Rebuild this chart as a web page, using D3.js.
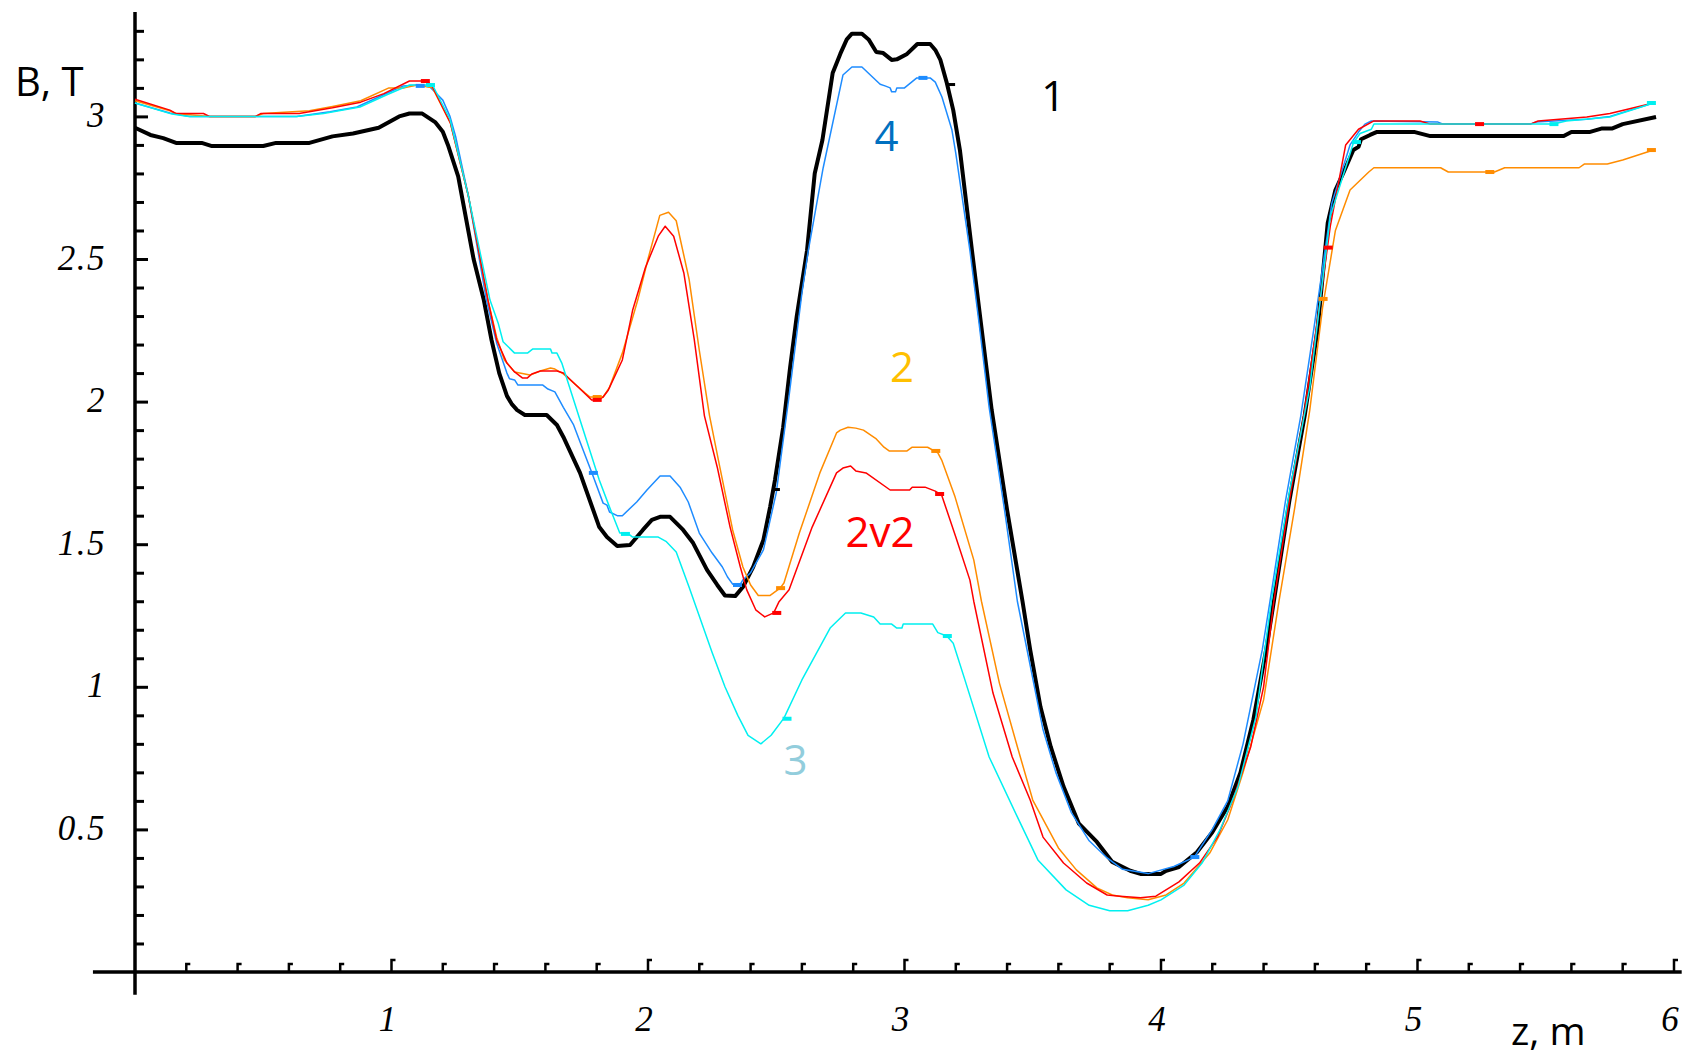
<!DOCTYPE html>
<html><head><meta charset="utf-8">
<script src="https://cdn.jsdelivr.net/npm/d3@7"></script>
<style>body{margin:0;background:#fff}svg{display:block}</style>
</head><body>
<svg id="chart" width="1690" height="1058"></svg>
<script>
// ---- data (z in m, B in T) ----
const curve1 = [[0,2.96],[0.06,2.935],[0.11,2.924],[0.16,2.907],[0.26,2.907],[0.30,2.896],[0.50,2.896],[0.55,2.907],[0.68,2.907],[0.77,2.93],[0.85,2.94],[0.95,2.96],[1.03,3.0],[1.07,3.01],[1.12,3.01],[1.17,2.98],[1.20,2.946],[1.22,2.90],[1.26,2.79],[1.32,2.50],[1.36,2.356],[1.39,2.216],[1.42,2.10],[1.45,2.02],[1.47,1.99],[1.49,1.97],[1.52,1.953],[1.605,1.953],[1.645,1.918],[1.67,1.876],[1.735,1.75],[1.81,1.56],[1.84,1.525],[1.88,1.494],[1.93,1.497],[1.98,1.55],[2.015,1.585],[2.047,1.596],[2.086,1.596],[2.137,1.55],[2.176,1.504],[2.23,1.41],[2.27,1.357],[2.30,1.32],[2.34,1.318],[2.37,1.35],[2.41,1.42],[2.45,1.515],[2.476,1.63],[2.495,1.725],[2.527,1.91],[2.554,2.12],[2.58,2.30],[2.62,2.53],[2.65,2.80],[2.68,2.917],[2.72,3.152],[2.75,3.22],[2.775,3.27],[2.795,3.29],[2.834,3.29],[2.86,3.27],[2.89,3.226],[2.917,3.222],[2.95,3.198],[2.97,3.2],[3.01,3.219],[3.05,3.254],[3.10,3.254],[3.12,3.233],[3.14,3.198],[3.165,3.117],[3.19,3.022],[3.216,2.882],[3.263,2.53],[3.30,2.26],[3.34,1.97],[3.40,1.62],[3.46,1.30],[3.49,1.13],[3.53,0.93],[3.57,0.79],[3.62,0.65],[3.68,0.52],[3.75,0.456],[3.81,0.386],[3.88,0.355],[3.92,0.344],[4.00,0.344],[4.02,0.355],[4.07,0.368],[4.14,0.42],[4.20,0.49],[4.26,0.58],[4.31,0.70],[4.36,0.884],[4.41,1.13],[4.44,1.30],[4.50,1.65],[4.56,1.95],[4.61,2.25],[4.65,2.626],[4.68,2.742],[4.71,2.80],[4.75,2.882],[4.77,2.893],[4.78,2.92],[4.815,2.935],[4.84,2.945],[4.99,2.945],[5.05,2.931],[5.57,2.931],[5.60,2.945],[5.67,2.945],[5.72,2.958],[5.76,2.958],[5.80,2.973],[5.93,2.998]];

const curve4 = [[0,3.047],[0.136,3.012],[0.214,3.0],[0.63,3.0],[0.76,3.016],[0.865,3.033],[0.967,3.075],[1.046,3.107],[1.11,3.11],[1.15,3.103],[1.20,3.057],[1.228,3.0],[1.25,2.93],[1.30,2.72],[1.37,2.356],[1.41,2.205],[1.45,2.10],[1.46,2.08],[1.48,2.076],[1.493,2.058],[1.59,2.058],[1.61,2.044],[1.637,2.034],[1.67,1.98],[1.71,1.918],[1.747,1.83],[1.78,1.753],[1.825,1.644],[1.84,1.637],[1.85,1.613],[1.88,1.6],[1.90,1.6],[1.956,1.648],[1.996,1.69],[2.047,1.739],[2.086,1.739],[2.125,1.70],[2.157,1.648],[2.20,1.539],[2.25,1.469],[2.29,1.42],[2.31,1.385],[2.33,1.36],[2.36,1.36],[2.37,1.375],[2.40,1.40],[2.45,1.48],[2.50,1.68],[2.55,2.02],[2.60,2.38],[2.625,2.53],[2.683,2.82],[2.76,3.145],[2.795,3.173],[2.834,3.173],[2.905,3.113],[2.924,3.107],[2.944,3.10],[2.95,3.086],[2.965,3.086],[2.97,3.10],[3.0,3.10],[3.048,3.135],[3.10,3.135],[3.12,3.12],[3.146,3.068],[3.185,2.952],[3.20,2.87],[3.255,2.53],[3.29,2.28],[3.33,1.98],[3.39,1.62],[3.44,1.30],[3.54,0.85],[3.59,0.70],[3.65,0.56],[3.72,0.46],[3.79,0.40],[3.85,0.36],[3.95,0.345],[4.05,0.37],[4.13,0.403],[4.20,0.50],[4.26,0.60],[4.32,0.80],[4.395,1.13],[4.425,1.30],[4.485,1.65],[4.545,1.95],[4.595,2.25],[4.666,2.696],[4.737,2.90],[4.77,2.945],[4.795,2.973],[4.82,2.984],[5.08,2.98],[5.10,2.973],[5.44,2.973],[5.46,2.98],[5.66,2.99],[5.75,3.0],[5.92,3.047]];

const curve2 = [[0,3.055],[0.136,3.02],[0.16,3.01],[0.29,3.0],[0.47,3.0],[0.50,3.01],[0.68,3.02],[0.77,3.035],[0.88,3.055],[0.99,3.10],[1.05,3.10],[1.10,3.11],[1.16,3.10],[1.23,2.976],[1.30,2.72],[1.376,2.356],[1.41,2.226],[1.44,2.146],[1.48,2.104],[1.54,2.093],[1.58,2.107],[1.62,2.118],[1.637,2.114],[1.67,2.097],[1.755,2.03],[1.774,2.016],[1.825,2.016],[1.85,2.05],[1.90,2.17],[1.96,2.356],[2.00,2.50],[2.046,2.653],[2.08,2.664],[2.11,2.634],[2.16,2.43],[2.20,2.18],[2.24,1.95],[2.28,1.77],[2.33,1.55],[2.37,1.42],[2.40,1.357],[2.43,1.32],[2.475,1.32],[2.515,1.346],[2.53,1.364],[2.59,1.539],[2.67,1.75],[2.735,1.89],[2.75,1.90],[2.78,1.91],[2.81,1.907],[2.84,1.90],[2.89,1.869],[2.92,1.84],[2.94,1.827],[3.01,1.827],[3.03,1.84],[3.09,1.84],[3.13,1.82],[3.145,1.795],[3.197,1.666],[3.27,1.445],[3.30,1.30],[3.37,1.013],[3.44,0.79],[3.50,0.603],[3.60,0.435],[3.67,0.358],[3.75,0.295],[3.81,0.27],[3.87,0.26],[3.95,0.253],[4.02,0.27],[4.09,0.312],[4.19,0.417],[4.26,0.533],[4.32,0.70],[4.40,0.954],[4.46,1.30],[4.52,1.62],[4.58,1.97],[4.63,2.33],[4.68,2.60],[4.737,2.742],[4.81,2.805],[4.83,2.82],[5.09,2.82],[5.12,2.805],[5.30,2.805],[5.34,2.82],[5.63,2.82],[5.65,2.833],[5.74,2.833],[5.80,2.847],[5.92,2.882]];

const curve2v2 = [[0,3.06],[0.136,3.022],[0.16,3.01],[0.267,3.01],[0.29,3.0],[0.47,3.0],[0.49,3.01],[0.64,3.01],[0.77,3.03],[0.88,3.05],[0.97,3.08],[1.07,3.124],[1.14,3.124],[1.16,3.103],[1.23,2.976],[1.30,2.72],[1.376,2.356],[1.41,2.216],[1.45,2.135],[1.48,2.104],[1.51,2.083],[1.53,2.083],[1.547,2.097],[1.58,2.107],[1.645,2.107],[1.67,2.10],[1.76,2.023],[1.78,2.006],[1.805,2.006],[1.825,2.016],[1.845,2.04],[1.90,2.146],[1.94,2.32],[1.99,2.47],[2.04,2.58],[2.067,2.615],[2.10,2.58],[2.14,2.45],[2.18,2.22],[2.22,1.95],[2.27,1.77],[2.32,1.56],[2.36,1.42],[2.385,1.34],[2.42,1.27],[2.455,1.245],[2.49,1.259],[2.51,1.297],[2.55,1.34],[2.64,1.56],[2.71,1.70],[2.735,1.75],[2.76,1.767],[2.79,1.774],[2.81,1.757],[2.85,1.75],[2.944,1.69],[3.02,1.69],[3.03,1.70],[3.08,1.70],[3.12,1.686],[3.145,1.672],[3.20,1.525],[3.255,1.374],[3.27,1.30],[3.345,0.978],[3.42,0.754],[3.49,0.603],[3.54,0.473],[3.62,0.382],[3.71,0.312],[3.79,0.27],[3.84,0.266],[3.92,0.26],[3.98,0.266],[4.07,0.316],[4.15,0.382],[4.22,0.473],[4.28,0.603],[4.35,0.79],[4.40,1.0],[4.44,1.30],[4.50,1.65],[4.56,1.97],[4.62,2.35],[4.66,2.615],[4.72,2.9],[4.77,2.955],[4.83,2.984],[5.01,2.984],[5.05,2.973],[5.44,2.973],[5.47,2.984],[5.66,2.998],[5.75,3.01],[5.92,3.047]];

const curve3 = [[0,3.047],[0.144,3.008],[0.21,3.0],[0.63,3.0],[0.735,3.01],[0.877,3.033],[0.98,3.075],[1.07,3.11],[1.16,3.11],[1.228,2.99],[1.30,2.72],[1.384,2.356],[1.416,2.275],[1.435,2.21],[1.48,2.17],[1.53,2.17],[1.55,2.184],[1.62,2.184],[1.626,2.17],[1.645,2.17],[1.664,2.135],[1.76,1.865],[1.81,1.725],[1.85,1.63],[1.89,1.539],[1.92,1.539],[1.94,1.525],[2.04,1.525],[2.07,1.51],[2.11,1.473],[2.16,1.35],[2.25,1.12],[2.30,1.00],[2.35,0.90],[2.39,0.83],[2.44,0.80],[2.48,0.83],[2.53,0.89],[2.60,1.024],[2.71,1.206],[2.77,1.259],[2.83,1.259],[2.88,1.245],[2.905,1.22],[2.95,1.22],[2.97,1.206],[2.99,1.206],[2.995,1.22],[3.11,1.22],[3.13,1.19],[3.165,1.178],[3.19,1.153],[3.23,1.04],[3.33,0.754],[3.44,0.544],[3.52,0.393],[3.63,0.288],[3.72,0.234],[3.80,0.215],[3.87,0.215],[3.95,0.234],[4.0,0.253],[4.09,0.305],[4.16,0.382],[4.23,0.498],[4.30,0.649],[4.37,0.894],[4.43,1.30],[4.50,1.68],[4.58,2.05],[4.66,2.65],[4.75,2.907],[4.776,2.94],[4.82,2.955],[4.83,2.973],[5.53,2.973],[5.58,2.984],[5.75,2.998],[5.92,3.047]];

// small position markers drawn on the curves
const marks1 = [[2.487,1.69],[3.17,3.11]];
const marks4 = [[1.11,3.107],[1.785,1.75],[2.347,1.357],[3.07,3.135],[4.13,0.403]];
const marks2 = [[1.80,2.016],[2.515,1.346],[3.12,1.827],[4.63,2.36],[5.28,2.805],[5.91,2.882]];
const marks2v2 = [[1.13,3.124],[1.80,2.006],[2.50,1.259],[3.135,1.676],[4.65,2.54],[5.24,2.973]];
const marks3 = [[1.15,3.11],[1.91,1.536],[2.54,0.888],[3.165,1.178],[4.76,2.91],[5.53,2.973],[5.91,3.047]];

// curve labels: [text, z, B]
const curveNames = ["1","4","2","2v2","3"];
const curveLabelPos = [[3.58,3.02],[2.93,2.88],[2.99,2.07],[2.905,1.49],[2.575,0.69]];

const xTickLabels = ["1","2","3","4","5","6"];
const xTickValues = [1,2,3,4,5,6];
const yTickLabels = ["0.5","1","1.5","2","2.5","3"];
const yTickValues = [0.5,1,1.5,2,2.5,3];

// ---- drawing ----
const svg = d3.select("#chart");
const x = d3.scaleLinear().domain([0,6]).range([135,1674]);
const y = d3.scaleLinear().domain([0,3]).range([972,116.4]);

const series = [
  {data: curve1, color:"#000000", width:4, marks: marks1},
  {data: curve4, color:"#1e8cff", width:1.5, marks: marks4},
  {data: curve2, color:"#ff8c00", width:1.5, marks: marks2},
  {data: curve2v2, color:"#ff0000", width:1.5, marks: marks2v2},
  {data: curve3, color:"#00f0f0", width:1.5, marks: marks3}
];
const labelColors = ["#000000","#0070c0","#ffc000","#ff0000","#92cddc"];

// axes lines
svg.append("line").attr("x1",x(0)).attr("x2",x(0)).attr("y1",y(-0.08)).attr("y2",y(3.366))
  .attr("stroke","#000").attr("stroke-width",3.5);
svg.append("line").attr("x1",x(-0.164)).attr("x2",x(6.03)).attr("y1",y(0)).attr("y2",y(0))
  .attr("stroke","#000").attr("stroke-width",3.5);

// y ticks (drawn inside, to the right)
const yMinor = d3.range(1,34).map(i=>i/10).filter(v=>Math.abs(v*2-Math.round(v*2))>1e-6);
const yAxisMajor = d3.axisRight(y).tickValues(yTickValues).tickSize(13).tickFormat("");
const yAxisMinor = d3.axisRight(y).tickValues(yMinor).tickSize(9).tickFormat("");
[yAxisMajor,yAxisMinor].forEach(ax=>{
  const g = svg.append("g").attr("transform",`translate(${x(0)},0)`).call(ax);
  g.select(".domain").remove();
  g.selectAll(".tick line").attr("stroke","#000").attr("stroke-width",3);
});

// x ticks (upward with a small flag)
const xMinor = d3.range(1,31).map(i=>i/5).filter(v=>Math.abs(v-Math.round(v))>1e-6);
const xt = svg.append("g");
xt.selectAll("path.minor").data(xMinor).join("path")
  .attr("d",d=>`M${x(d)},${y(0)}V${y(0)-8}h4`)
  .attr("fill","none").attr("stroke","#000").attr("stroke-width",2.5);
xt.selectAll("path.major").data(xTickValues).join("path")
  .attr("d",d=>`M${x(d)},${y(0)}V${y(0)-12}h4`)
  .attr("fill","none").attr("stroke","#000").attr("stroke-width",2.5);

// tick labels
const tickFont = "'Liberation Serif','Times New Roman',serif";
svg.append("g").selectAll("text").data(yTickValues).join("text")
  .attr("x",106).attr("y",d=>y(d)).attr("dy","0.3em")
  .attr("text-anchor","end").attr("font-family",tickFont).attr("font-style","italic")
  .attr("font-size",35).attr("letter-spacing",1.5)
  .text((d,i)=>yTickLabels[i]);
svg.append("g").selectAll("text").data(xTickValues).join("text")
  .attr("x",d=>x(d)-4).attr("y",1031)
  .attr("text-anchor","middle").attr("font-family",tickFont).attr("font-style","italic")
  .attr("font-size",35)
  .text((d,i)=>xTickLabels[i]);

// axis titles
const sans = "'Open Sans','Noto Sans',sans-serif";
svg.append("text").attr("x",15).attr("y",96).attr("font-family",sans).attr("font-size",40).text("B, T");
svg.append("text").attr("x",1511).attr("y",1045).attr("font-family",sans).attr("font-size",39).text("z, m");

// curves
const line = d3.line().x(d=>x(d[0])).y(d=>y(d[1])).curve(d3.curveLinear);
const order = [0,1,2,3,4];
order.forEach(i=>{
  const s = series[i];
  svg.append("path").datum(s.data).attr("d",line)
    .attr("fill","none").attr("stroke",s.color).attr("stroke-width",s.width)
    .attr("stroke-linejoin","round");
});
order.forEach(i=>{
  const s = series[i];
  svg.append("g").selectAll("rect").data(s.marks).join("rect")
    .attr("x",d=>x(d[0])-(i===0?0:4)).attr("y",d=>y(d[1])-2)
    .attr("width",i===0?7:9).attr("height",i===0?3:4).attr("fill",s.color);
});

// curve labels
svg.append("g").selectAll("text").data(curveNames).join("text")
  .attr("x",(d,i)=>x(curveLabelPos[i][0])).attr("y",(d,i)=>y(curveLabelPos[i][1]))
  .attr("text-anchor","middle").attr("font-family",sans).attr("font-size",42)
  .attr("fill",(d,i)=>labelColors[i]).text(d=>d);
</script>
</body></html>
